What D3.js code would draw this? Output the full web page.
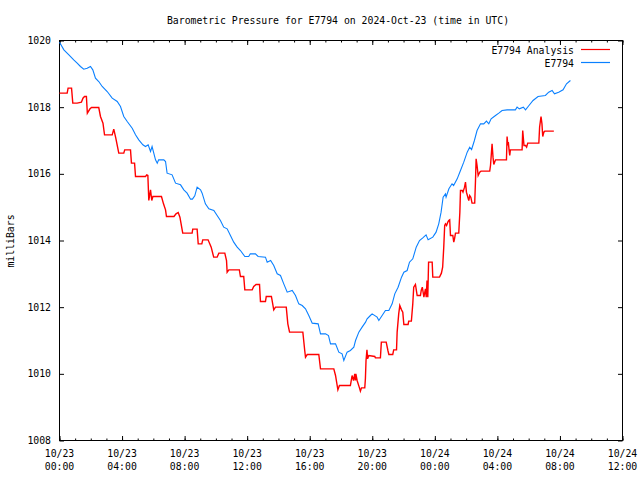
<!DOCTYPE html>
<html>
<head>
<meta charset="utf-8">
<script src="https://cdn.jsdelivr.net/npm/d3@7"></script>
<style>
  html, body { margin: 0; padding: 0; background: #fff; }
  svg text { font-family: "DejaVu Sans Mono", "Liberation Mono", monospace; font-size: 9.8px; fill: #000; }
</style>
</head>
<body>
<svg id="chart" width="640" height="480"></svg>
<script>
// ---- data (time in hours since 2024-10-23 00:00 UTC, pressure in mb) ----
const titleText = "Barometric Pressure for E7794 on 2024-Oct-23 (time in UTC)";
const yLabelText = "milliBars";
const seriesNames = ["E7794 Analysis", "E7794"];
const seriesColors = ["#ff0000", "#0a80ff"];

const xTickHours = [0, 4, 8, 12, 16, 20, 24, 28, 32, 36];
const xTickDates = ["10/23", "10/23", "10/23", "10/23", "10/23", "10/23", "10/24", "10/24", "10/24", "10/24"];
const xTickTimes = ["00:00", "04:00", "08:00", "12:00", "16:00", "20:00", "00:00", "04:00", "08:00", "12:00"];
const yTicks = [1008, 1010, 1012, 1014, 1016, 1018, 1020];

const obsHours = [0,0.28,0.6,0.91,1.13,1.34,1.55,1.77,1.98,2.13,2.3,2.51,2.73,3.05,3.37,3.69,3.9,4.11,4.33,4.65,4.86,5.07,5.33,5.5,5.67,5.82,5.92,6.14,6.25,6.34,6.67,6.78,6.88,7.2,7.42,7.74,7.95,8.16,8.38,8.5,8.65,8.8,9.02,9.12,9.33,9.55,9.87,10.08,10.29,10.5,10.72,10.93,11.14,11.36,11.57,11.85,12.1,12.2,12.53,12.7,13.17,13.28,13.5,13.7,13.92,14.13,14.34,14.56,14.88,15.09,15.3,15.52,15.73,15.94,16.16,16.54,16.69,17.01,17.2,17.33,17.65,17.86,18.07,18.18,18.39,18.6,18.82,18.93,19.14,19.35,19.57,19.67,19.88,19.99,20.31,20.42,20.63,20.84,21.06,21.27,21.44,21.65,21.87,22.02,22.23,22.38,22.59,22.81,23.02,23.23,23.44,23.57,23.87,24.08,24.25,24.4,24.53,24.68,24.72,24.9,25.1,25.2,25.43,25.64,25.85,26.07,26.23,26.35,26.53,26.7,26.92,27.13,27.3,27.45,27.6,27.88,28.09,28.3,28.62,29.15,29.26,29.4,29.66,29.8,30.02,30.28,30.6,31.07,31.28,31.5,31.65,31.92,32.2,32.42,32.67];
const obsValues = [1019.95,1019.72,1019.57,1019.42,1019.32,1019.22,1019.14,1019.17,1019.22,1019.12,1018.87,1018.77,1018.62,1018.47,1018.27,1018.17,1018.02,1017.72,1017.57,1017.37,1017.17,1017.02,1016.87,1016.82,1016.87,1016.67,1016.82,1016.42,1016.32,1016.42,1016.42,1016.37,1016.02,1015.97,1015.72,1015.67,1015.52,1015.42,1015.24,1015.24,1015.34,1015.6,1015.52,1015.42,1015.1,1014.95,1014.9,1014.75,1014.6,1014.4,1014.35,1014.15,1013.95,1013.8,1013.7,1013.52,1013.52,1013.6,1013.6,1013.52,1013.5,1013.35,1013.4,1013.25,1013.0,1012.95,1012.7,1012.45,1012.5,1012.35,1012.1,1012.05,1011.95,1011.75,1011.52,1011.5,1011.2,1011.2,1011.15,1010.9,1010.9,1010.65,1010.6,1010.4,1010.65,1010.7,1010.8,1011.0,1011.25,1011.4,1011.55,1011.65,1011.75,1011.8,1011.7,1011.6,1011.75,1011.9,1011.9,1012.1,1012.4,1012.6,1012.9,1013.05,1013.1,1013.35,1013.45,1013.8,1014.0,1014.08,1014.17,1014.02,1014.1,1014.25,1014.5,1014.85,1015.3,1015.4,1015.3,1015.55,1015.7,1015.65,1015.85,1016.1,1016.35,1016.65,1016.8,1016.73,1017.0,1017.3,1017.5,1017.5,1017.58,1017.5,1017.65,1017.75,1017.82,1017.9,1017.92,1017.92,1018.0,1017.95,1018.0,1017.92,1018.05,1018.2,1018.32,1018.35,1018.45,1018.5,1018.4,1018.45,1018.52,1018.7,1018.8];

const anaHours = [0,0.49,0.55,0.77,0.85,1.13,1.4,1.5,1.6,1.72,1.78,1.95,2.05,2.51,2.62,2.78,2.88,3.37,3.47,3.6,3.79,4.11,4.17,4.54,4.6,4.8,4.86,5.5,5.58,5.65,5.71,5.82,5.9,5.97,6.52,6.65,6.78,6.84,7.32,7.45,7.59,7.7,7.88,8.48,8.52,8.8,8.87,9.1,9.16,9.5,9.7,9.86,10.08,10.19,10.57,10.68,10.72,10.83,11.5,11.57,11.78,11.85,12.32,12.42,12.57,12.79,12.85,13.17,13.22,13.55,13.7,13.81,14.5,14.6,14.71,15.56,15.68,15.73,15.84,16.58,16.69,17.54,17.65,17.8,17.9,18.6,18.71,18.8,18.88,18.92,18.95,19.03,19.18,19.24,19.31,19.52,19.56,19.6,19.66,19.7,19.78,20.16,20.2,20.52,20.58,20.89,21.0,21.06,21.31,21.37,21.55,21.59,21.69,21.76,21.87,21.95,22.02,22.29,22.33,22.5,22.59,22.65,22.76,22.87,23.08,23.13,23.2,23.3,23.4,23.45,23.5,23.55,23.6,23.83,23.87,24.3,24.42,24.5,24.57,24.63,24.68,24.75,24.83,24.89,24.95,25.0,25.15,25.21,25.26,25.32,25.53,25.6,25.64,25.75,25.8,25.9,25.96,26.02,26.17,26.23,26.3,26.38,26.55,26.6,26.64,26.7,26.77,26.87,26.95,27.51,27.56,27.66,27.72,27.77,27.88,28.58,28.62,28.67,28.7,28.75,28.79,28.83,29.58,29.62,29.7,29.8,29.87,29.94,30.65,30.7,30.79,30.85,30.9,30.97,31.03,31.61];
const anaValues = [1018.42,1018.42,1018.57,1018.57,1018.12,1018.12,1018.15,1018.27,1018.32,1018.32,1017.82,1017.95,1017.99,1017.99,1017.72,1017.52,1017.17,1017.17,1017.34,1017.07,1016.62,1016.62,1016.72,1016.72,1016.32,1016.32,1015.92,1015.92,1015.97,1015.95,1015.2,1015.52,1015.2,1015.32,1015.32,1015.1,1014.92,1014.72,1014.72,1014.8,1014.84,1014.7,1014.22,1014.22,1014.34,1014.34,1013.9,1013.9,1014.02,1014.02,1013.8,1013.5,1013.5,1013.62,1013.62,1013.4,1013.05,1013.12,1013.12,1012.92,1012.92,1012.52,1012.52,1012.62,1012.68,1012.68,1012.17,1012.17,1012.32,1012.32,1011.92,1012.0,1012.0,1011.5,1011.25,1011.25,1010.7,1010.5,1010.58,1010.58,1010.15,1010.15,1009.95,1009.52,1009.65,1009.65,1009.95,1009.8,1010.0,1009.8,1010.0,1009.8,1009.58,1009.48,1009.58,1009.58,1009.85,1010.4,1010.72,1010.45,1010.55,1010.52,1010.48,1010.48,1010.95,1010.95,1010.7,1010.58,1010.58,1010.72,1010.72,1011.25,1011.8,1012.05,1011.92,1011.85,1011.48,1011.48,1011.58,1011.58,1012.1,1012.6,1012.68,1012.35,1012.35,1012.5,1012.6,1012.3,1012.55,1012.3,1012.8,1012.3,1013.35,1013.35,1012.9,1012.9,1013.02,1013.2,1013.8,1014.45,1014.5,1014.45,1014.55,1014.6,1014.62,1014.15,1014.15,1013.95,1014.05,1014.22,1014.22,1014.85,1015.5,1015.5,1015.45,1015.6,1015.75,1015.45,1015.2,1015.35,1015.3,1015.12,1015.12,1015.8,1016.45,1016.25,1015.95,1016.05,1016.08,1016.08,1016.25,1016.9,1016.5,1016.28,1016.42,1016.42,1017.12,1016.85,1016.95,1016.7,1016.55,1016.72,1016.72,1017.3,1016.85,1016.85,1016.8,1016.92,1016.92,1017.4,1017.72,1017.5,1017.12,1017.25,1017.28,1017.28];

// ---- layout ----
const svg = d3.select("#chart");
const L = 59.5, R = 622.5, T = 40.5, B = 440.5;
const x = d3.scaleLinear().domain([0, 36]).range([L, R]);
const y = d3.scaleLinear().domain([1008, 1020]).range([B, T]);

svg.append("rect").attr("width", 640).attr("height", 480).attr("fill", "#fff");

// title
svg.append("text").attr("x", 338).attr("y", 24).attr("text-anchor", "middle").text(titleText);
// y label
svg.append("text").attr("transform", "translate(14,241) rotate(-90)").attr("text-anchor", "middle").text(yLabelText);

const g = svg.append("g");
const minorHours = d3.range(0, 37, 1);

// axes with inward ticks
const axBottomMinor = d3.axisBottom(x).tickValues(minorHours).tickSizeInner(-2).tickSizeOuter(0).tickFormat("");
g.append("g").attr("transform", `translate(0,${B})`).call(axBottomMinor);
const axBottomMajor = d3.axisBottom(x).tickValues(xTickHours).tickSizeInner(-4.5).tickSizeOuter(0).tickFormat("");
g.append("g").attr("transform", `translate(0,${B})`).call(axBottomMajor);
const axTopMinor = d3.axisTop(x).tickValues(minorHours).tickSizeInner(-2).tickSizeOuter(0).tickFormat("");
g.append("g").attr("transform", `translate(0,${T})`).call(axTopMinor);
const axTopMajor = d3.axisTop(x).tickValues(xTickHours).tickSizeInner(-4.5).tickSizeOuter(0).tickFormat("");
g.append("g").attr("transform", `translate(0,${T})`).call(axTopMajor);
const axLeft = d3.axisLeft(y).tickValues(yTicks).tickSizeInner(-4.5).tickSizeOuter(0).tickFormat("");
g.append("g").attr("transform", `translate(${L},0)`).call(axLeft);
const axRight = d3.axisRight(y).tickValues(yTicks).tickSizeInner(-4.5).tickSizeOuter(0).tickFormat("");
g.append("g").attr("transform", `translate(${R},0)`).call(axRight);
g.selectAll(".domain").remove();
g.selectAll("line").attr("stroke", "#000").attr("stroke-width", 1);

// frame
svg.append("rect").attr("x", L).attr("y", T).attr("width", R - L).attr("height", B - T)
  .attr("fill", "none").attr("stroke", "#000").attr("stroke-width", 1);

// tick labels
svg.append("g").selectAll("text").data(yTicks).join("text")
  .attr("x", 51).attr("y", d => y(d) + 3.5).attr("text-anchor", "end").text(d => d);
const xl = svg.append("g").selectAll("g").data(xTickHours).join("g")
  .attr("transform", d => `translate(${x(d)},0)`);
xl.append("text").attr("y", 457).attr("text-anchor", "middle").text((d, i) => xTickDates[i]);
xl.append("text").attr("y", 470).attr("text-anchor", "middle").text((d, i) => xTickTimes[i]);

// lines
const line = d3.line().x(d => x(d[0])).y(d => y(d[1]));
const anaData = anaHours.map((h, i) => [h, anaValues[i]]);
const obsData = obsHours.map((h, i) => [h, obsValues[i]]);
svg.append("path").datum(anaData).attr("d", line).attr("fill", "none")
  .attr("stroke", seriesColors[0]).attr("stroke-width", 1.4).attr("stroke-linejoin", "miter");
svg.append("path").datum(obsData).attr("d", line).attr("fill", "none")
  .attr("stroke", seriesColors[1]).attr("stroke-width", 1.1);

// legend
const leg = svg.append("g").selectAll("g").data(seriesNames).join("g")
  .attr("transform", (d, i) => `translate(0,${50 + i * 13})`);
leg.append("text").attr("x", 574).attr("y", 3.5).attr("text-anchor", "end").text(d => d);
leg.append("line").attr("x1", 581).attr("x2", 610).attr("y1", -0.5).attr("y2", -0.5)
  .attr("stroke", (d, i) => seriesColors[i]).attr("stroke-width", 1.2);
</script>
</body>
</html>
